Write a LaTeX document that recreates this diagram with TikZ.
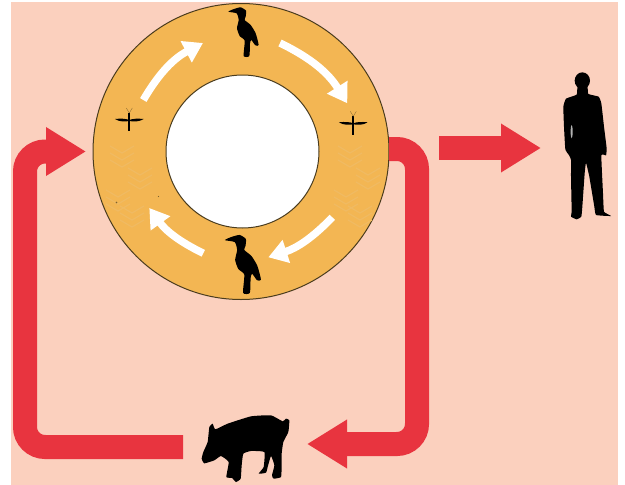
\documentclass[tikz,border=0pt]{standalone}
\usepackage{xcolor}
\usetikzlibrary{arrows.meta,positioning}
\definecolor{pagepink}{HTML}{FBD0BE}
\definecolor{ringgold}{HTML}{F3B653}
\definecolor{ringpale}{HTML}{F0BA62}
\definecolor{loopred}{HTML}{E8343F}
\definecolor{ringedge}{HTML}{4A3C1E}

\begin{document}
\begin{tikzpicture}[
  x=1pt, y=-1pt,
  disc/.style={draw=ringedge, line width=1pt, circle, inner sep=0pt, outer sep=0pt, fill=#1},
  slot/.style={inner sep=0pt, outer sep=0pt},
  loopband/.style={loopred, line width=24pt, rounded corners=20pt, -{Triangle[length=40pt,width=46pt]}},
  hostarr/.style={white, line width=7.5pt, -{Triangle[length=19pt,width=23pt]}},
  bird/.pic={
    \fill[black, scale=1/3, shift={(-459,-96)}] plot[smooth cycle, tension=0.35] coordinates {
      (415,35) (432,27) (452,22) (468,32) (467,50) (464,60) (482,75) (497,100) (506,135) (496,136)
      (484,120) (480,130) (478,168) (461,168) (464,122) (449,108) (441,85) (446,60) (440,40)};
  },
  mosquito/.pic={
    \fill[black, scale=1/3] (-43,-3) .. controls (-25,-5) and (-10,-4) .. (0,0)
      .. controls (10,-4) and (25,-5) .. (43,-3) .. controls (30,6) and (12,5) .. (0,3)
      .. controls (-12,5) and (-30,6) .. (-43,-3) -- cycle;
    \fill[black, scale=1/3] (-2.5,-22) rectangle (2.5,34);
    \draw[ringedge!70!ringgold, line width=.3pt] (0,-7) -- (-3,-12) (0,-7) -- (3,-12);
  },
  person/.pic={
    \fill[black, scale=1/3, shift={(-138,-264)}] (127,62) ellipse[x radius=23, y radius=25];
    \fill[black, scale=1/3, shift={(-138,-264)}] plot[smooth cycle, tension=0.2] coordinates {
      (113,80) (142,80) (145,102) (176,110) (184,130) (192,200) (200,265) (198,286) (184,286)
      (189,400) (192,455) (213,468) (168,465) (163,440) (148,350) (138,308) (134,340) (127,440)
      (124,470) (110,478) (93,470) (95,455) (93,350) (93,300) (88,287) (76,268) (72,200) (70,140)
      (78,116) (110,104)};
    \fill[black!30, scale=1/3, shift={(-138,-264)}] (95,215) ellipse[x radius=3, y radius=20];
  },
  hog/.pic={
    \fill[black, scale=1/3, shift={(-222,-145)}] plot[smooth cycle, tension=0.25] coordinates {
      (92,180) (97,160) (110,130) (115,85) (125,75) (133,92) (170,75) (240,53) (300,50) (335,68)
      (345,60) (355,65) (352,100) (337,130) (332,165) (332,200) (330,235) (308,240) (303,230)
      (310,200) (300,172) (290,205) (285,222) (263,225) (278,205) (280,160) (240,157) (217,165)
      (212,200) (209,240) (195,250) (183,238) (166,235) (173,190) (150,172) (130,185) (100,194)};
  }
]
  \useasboundingbox (0,0) rectangle (625,485);
  \fill[pagepink] (11,2) rectangle (618,485);

  \node[disc=ringgold, minimum size=296pt] (ring) at (241,151.5) {};
  % faint stalks in the ring
  \foreach \sx/\sy in {122/146,140/168,118/190,132/206,350/146,368/168,346/190,360/206}
    \foreach \k in {0,1,2}
      \draw[ringpale, line width=1.2pt] (\sx-12,\sy+\k*7) -- (\sx,\sy+7+\k*7) -- (\sx+12,\sy+\k*7);
  \fill[ringedge!70!ringgold] (116.5,202.5) circle (.8) (158.5,196.5) circle (.7);
  \node[disc=white, minimum size=153pt] (hole) at (242.5,151.5) {};

  \node[slot, minimum width=8pt, minimum height=8pt] (birdT) at (243,32) {};
  \node[slot, minimum width=8pt, minimum height=8pt] (birdB) at (242.3,264.3) {};
  \node[slot, minimum width=8pt, minimum height=8pt] (mosqL) at (129.3,120) {};
  \node[slot, minimum width=8pt, minimum height=8pt] (mosqR) at (353.3,123.3) {};
  \node[slot, minimum width=50pt, minimum height=148pt] (man) at (586,148) {};
  \node[slot, minimum width=124pt, minimum height=65pt] (pig) at (245,447) {};
  \coordinate (turnR) at (417,444);

  \pic at (birdT) {bird};
  \pic[scale=1.19] at (birdB) {bird};
  \pic at (mosqL) {mosquito};
  \pic at (mosqR) {mosquito};
  \pic at (man) {person};
  \pic at (pig) {hog};

  \draw[hostarr] ([xshift=14pt,yshift=20pt]mosqL.center) to[bend left=16] ([xshift=-40pt,yshift=-11pt]birdT.center);
  \draw[hostarr] ([xshift=37pt,yshift=-11pt]birdT.center) to[bend left=16] ([xshift=-6pt,yshift=20pt]mosqR.center);
  \draw[hostarr] ([xshift=-21pt,yshift=-94pt]mosqR.center) to[bend left=14] ([xshift=26pt,yshift=7pt]birdB.center);
  \draw[hostarr] ([xshift=-39pt,yshift=11pt]birdB.center) to[bend left=14] ([xshift=20pt,yshift=-88pt]mosqL.center);

  \draw[loopband] ([yshift=2.5pt]ring.east) -| (turnR) -- (pig.east |- turnR);
  \draw[loopband, shorten >=7pt] (pig.west) -| ([xshift=-68pt]ring.west) -- (ring.west);
  \draw[loopband, shorten >=20pt] ([xshift=50pt,yshift=3.5pt]ring.east) -- (man.west);
\end{tikzpicture}
\end{document}
